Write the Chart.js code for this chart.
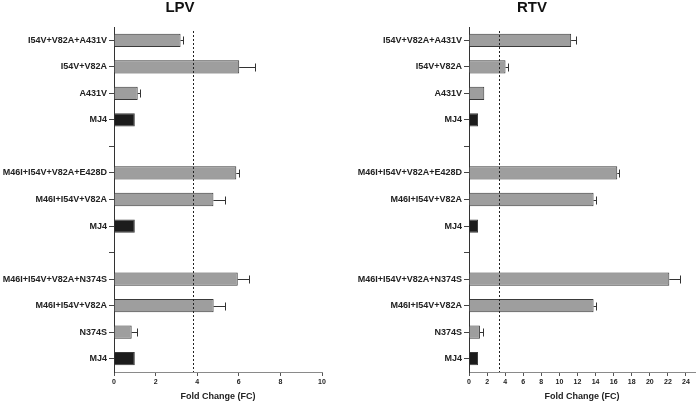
<!DOCTYPE html>
<html>
<head>
<meta charset="utf-8">
<script src="https://cdn.jsdelivr.net/npm/chart.js@4/dist/chart.umd.min.js"></script>
<style>
    body { margin: 0; background: #ffffff; }
    #wrap { position: relative; width: 696px; height: 402px; }
    canvas { position: absolute; top: 0; }
    #lpvChart { left: 0; }
    #rtvChart { left: 348px; }
</style>
</head>
<body>
<div id="wrap">
    <canvas id="lpvChart" width="348" height="402"></canvas>
    <canvas id="rtvChart" width="348" height="402"></canvas>
</div>
<script>
const categories = [
    'I54V+V82A+A431V', 'I54V+V82A', 'A431V', 'MJ4', '',
    'M46I+I54V+V82A+E428D', 'M46I+I54V+V82A', 'MJ4', '',
    'M46I+I54V+V82A+N374S', 'M46I+I54V+V82A', 'N374S', 'MJ4'
];

const lpvValues = [3.2, 6.02, 1.14, 1, null, 5.88, 4.78, 1, null, 5.95, 4.79, 0.85, 1];
const lpvErrors = [0.1, 0.78, 0.12, 0, null, 0.12, 0.56, 0, null, 0.52, 0.55, 0.24, 0];
const lpvCutoff = 3.81;
const lpvTicks = [0, 2, 4, 6, 8, 10];

const rtvValues = [11.3, 4.04, 1.69, 1, null, 16.4, 13.78, 1, null, 22.16, 13.78, 1.21, 1];
const rtvErrors = [0.5, 0.3, 0, 0, null, 0.2, 0.25, 0, null, 1.15, 0.27, 0.33, 0];
const rtvCutoff = 3.31;
const rtvTicks = [0, 2, 4, 6, 8, 10, 12, 14, 16, 18, 20, 22, 24];

const fontFamily = "'Liberation Sans', Arial, Helvetica, sans-serif";

/**
 * Draws the panel title, one-sided error bars and the dotted cutoff line.
 */
const overlayPlugin = {
    id: 'overlay',
    afterDatasetsDraw(chart, args, opts) {
        let ctx = chart.ctx;
        let xScale = chart.scales.x;
        let meta = chart.getDatasetMeta(0);
        let values = chart.data.datasets[0].data;

        ctx.save();
        ctx.strokeStyle = '#333333';
        ctx.lineWidth = 1;
        opts.errors.forEach((err, i) => {
            if (!err || values[i] === null)
                return;
            let bar = meta.data[i];
            let xEnd = Math.round(xScale.getPixelForValue(values[i] + err)) + 0.5;
            let y = Math.round(bar.y) + 0.5;
            ctx.beginPath();
            ctx.moveTo(bar.x, y);
            ctx.lineTo(xEnd, y);
            ctx.moveTo(xEnd, y - 4);
            ctx.lineTo(xEnd, y + 4);
            ctx.stroke();
        });

        let xc = Math.round(xScale.getPixelForValue(opts.cutoff)) + 0.5;
        ctx.strokeStyle = '#222222';
        ctx.setLineDash([2, 2]);
        ctx.beginPath();
        ctx.moveTo(xc, chart.chartArea.top + 4);
        ctx.lineTo(xc, chart.chartArea.bottom);
        ctx.stroke();
        ctx.restore();
    },
    afterDraw(chart, args, opts) {
        let ctx = chart.ctx;
        ctx.save();
        ctx.fillStyle = '#111111';
        ctx.font = 'bold 15px ' + fontFamily;
        ctx.textAlign = 'center';
        ctx.textBaseline = 'middle';
        ctx.fillText(opts.title, opts.titleX, 8);
        ctx.restore();
    }
};

/**
 * Draws one panel.
 *
 * @param {string} canvasId The id of the canvas.
 * @param {string} title The panel title.
 * @param {number} titleX The horizontal centre of the title.
 * @param {number[]} values The fold change values.
 * @param {number[]} errors The error bar sizes.
 * @param {number} cutoff The cutoff value for the dotted line.
 * @param {number[]} tickValues The x tick values.
 * @param {number} xMax The x axis maximum.
 * @param {number} padRight The right padding.
 * @param {number} yWidth The width of the y axis box.
 */
function drawPanel(canvasId, title, titleX, values, errors, cutoff, tickValues, xMax, padRight, yWidth) {
    let canvas = document.getElementById(canvasId);
    return new Chart(canvas, {
        type: 'bar',
        data: {
            labels: categories,
            datasets: [{
                data: values,
                backgroundColor: categories.map(c => c === 'MJ4' ? '#1c1c1c' : '#9e9e9e'),
                borderColor: '#3a3a3a',
                borderWidth: 1,
                categoryPercentage: 1,
                barPercentage: 0.5
            }]
        },
        options: {
            indexAxis: 'y',
            responsive: false,
            animation: false,
            layout: { padding: { left: 0, right: padRight, top: 27, bottom: 0 } },
            plugins: {
                legend: { display: false },
                tooltip: { enabled: false },
                overlay: { errors: errors, cutoff: cutoff, title: title, titleX: titleX }
            },
            scales: {
                x: {
                    type: 'linear',
                    min: 0,
                    max: xMax,
                    afterBuildTicks: axis => {
                        axis.ticks = tickValues.map(v => ({ value: v }));
                    },
                    afterFit: axis => { axis.height = 30; },
                    border: { color: '#8a8a8a', width: 1 },
                    grid: {
                        drawOnChartArea: false,
                        drawTicks: true,
                        tickLength: 4,
                        color: '#555555'
                    },
                    ticks: {
                        color: '#222222',
                        padding: 2,
                        maxRotation: 0,
                        font: { family: fontFamily, size: 7, weight: 'bold' }
                    },
                    title: {
                        display: true,
                        text: 'Fold Change (FC)',
                        color: '#222222',
                        padding: { top: 2, bottom: 0 },
                        font: { family: fontFamily, size: 9, weight: 'bold' }
                    }
                },
                y: {
                    afterFit: axis => { axis.width = yWidth; },
                    border: { color: '#333333', width: 1 },
                    grid: {
                        offset: false,
                        drawOnChartArea: false,
                        drawTicks: true,
                        tickLength: 5,
                        color: '#444444'
                    },
                    ticks: {
                        color: '#222222',
                        padding: 2,
                        autoSkip: false,
                        font: { family: fontFamily, size: 9, weight: 'bold' }
                    }
                }
            }
        },
        plugins: [overlayPlugin]
    });
}

drawPanel('lpvChart', 'LPV', 180, lpvValues, lpvErrors, lpvCutoff, lpvTicks, 10, 26, 114);
drawPanel('rtvChart', 'RTV', 184, rtvValues, rtvErrors, rtvCutoff, rtvTicks, 25, 1, 121);
</script>
</body>
</html>
